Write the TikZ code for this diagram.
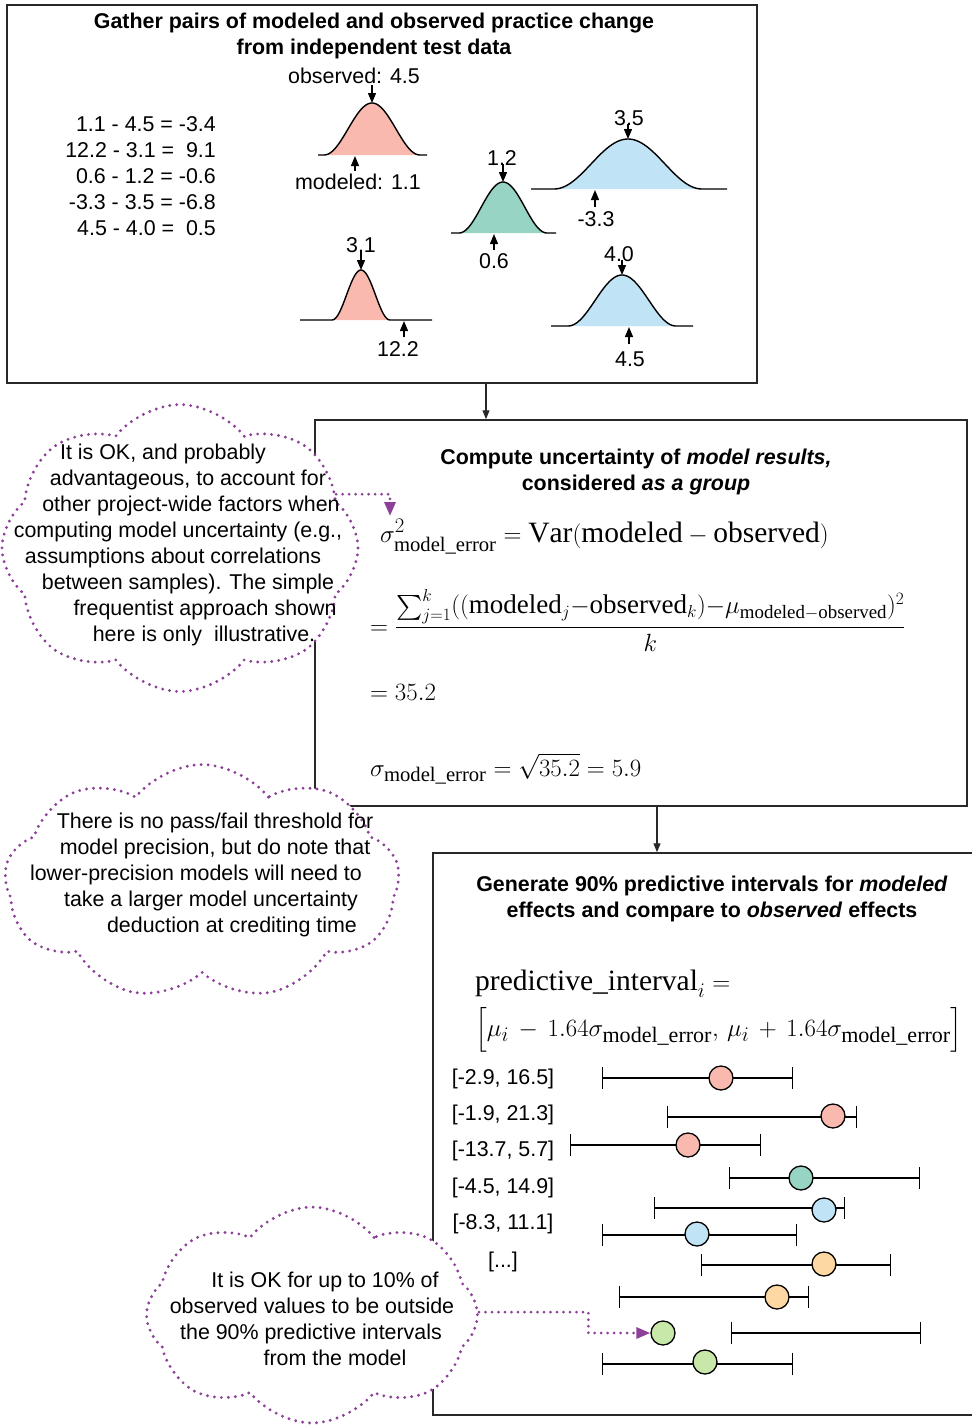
\documentclass[tikz,border=0pt]{standalone}
\usepackage{amsmath}
\usepackage{fontspec}
\setmainfont{Liberation Serif}
\newfontfamily\lsans{Liberation Sans}
\newcommand\EQ{\mathrel{\text{\usefont{OT1}{cmr}{m}{n}=}}}
\newcommand\PL{\mathbin{\text{\usefont{OT1}{cmr}{m}{n}+}}}
\usetikzlibrary{arrows.meta,shapes.symbols,calc}
\definecolor{pinkc}{RGB}{250,185,175}
\definecolor{tealc}{RGB}{152,212,196}
\definecolor{bluec}{RGB}{192,227,245}
\definecolor{orangec}{RGB}{253,216,162}
\definecolor{greenc}{RGB}{200,232,170}
\definecolor{notec}{RGB}{140,64,152}
\definecolor{framec}{RGB}{40,40,40}
\newcommand\bodyfont{\lsans\fontsize{21.4}{26}\selectfont}
\newcommand\mathsz{\fontsize{29.5}{35}\selectfont}
% color, center x, base y, height, half width, left x, right x
\newcommand\bellcurve[7]{%
  \pgfmathsetmacro\blo{#2-#5}\pgfmathsetmacro\bhi{#2+#5}%
  \draw[curve, fill=#1] (#6,#3) -- plot[domain=\blo:\bhi, samples=70] (\x,{#3-#4*(1+cos(180*(\x-#2)/#5))/2}) -- (#7,#3);}
\begin{document}
\begin{tikzpicture}[x=1pt,y=-1pt,
  frame/.style={draw=framec, line width=1.5pt, inner sep=0pt},
  txt/.style={font=\bodyfont, inner sep=0pt, align=center},
  ttl/.style={font={\bodyfont\bfseries}, inner sep=0pt, align=center},
  eqn/.style={font=\mathsz, inner sep=0pt, anchor=base west},
  curve/.style={draw=black, line width=1.4pt, line join=round},
  pk/.style={line width=1.3pt, -{Triangle[length=10pt,width=8pt]}},
  flow/.style={draw=framec, line width=1.3pt, -{Triangle[length=9pt,width=7pt]}},
  cloudnote/.style={cloud, cloud puffs=8, cloud puff arc=105, draw=notec, fill=white, line width=3.2pt, dash pattern=on 0pt off 7pt, line cap=round, inner sep=0pt},
  noteline/.style={draw=notec, line width=3pt, dash pattern=on 0pt off 6.5pt, line cap=round, -{Triangle[length=14pt,width=11pt,fill=notec]}},
  errbar/.style={line width=1.3pt, {Bar[width=22pt]}-{Bar[width=22pt]}},
  dot/.style={circle, draw=black, line width=1.3pt, minimum size=24pt, inner sep=0pt}]
\useasboundingbox (0,0) rectangle (972,1425);
\fill[white] (0,0) rectangle (972,1425);

% ---------- boxes ----------
\node[frame, minimum width=750pt, minimum height=378pt] (box1) at (382,194) {};
\node[frame, minimum width=560pt, minimum height=562pt] (box3) at (713,1134) {};
\node[frame, minimum width=652pt, minimum height=386pt] (box2) at (641,613) {};

\coordinate (a1) at (486,0);
\coordinate (a2) at (657,0);
\draw[flow] (box1.south -| a1) -- (box2.north -| a1);
\draw[flow] (box2.south -| a2) -- (box3.north -| a2);

% ---------- box 1 ----------
\node[ttl] (t1) at (374,36) {Gather pairs of modeled and observed practice change\\from independent test data};
\node[txt, align=right, anchor=east] (diffs) at (216,176.5) {1.1 - 4.5 = -3.4\\12.2 - 3.1 =\ \ 9.1\\0.6 - 1.2 = -0.6\\-3.3 - 3.5 = -6.8\\4.5 - 4.0 =\ \ 0.5};

\bellcurve{pinkc}{372}{155}{52}{48}{318}{427}
\bellcurve{tealc}{503}{233}{51}{44}{451}{556}
\bellcurve{bluec}{628}{189}{50}{74}{531}{727}
\bellcurve{pinkc}{361}{320}{50}{29}{300}{432}
\bellcurve{bluec}{622}{326}{51}{54}{551}{693}

\node[txt] (lobs) at (354,76) {observed: 4.5};
\node[txt] (lmod) at (358,182) {modeled: 1.1};
\node[txt] (l2a) at (502,158) {1.2};
\node[txt] (l2b) at (494,261) {0.6};
\node[txt] (l3a) at (629,118) {3.5};
\node[txt] (l3b) at (596,219) {-3.3};
\node[txt] (l4a) at (361,245) {3.1};
\node[txt] (l4b) at (398,349) {12.2};
\node[txt] (l5a) at (619,254) {4.0};
\node[txt] (l5b) at (630,359) {4.5};

\coordinate (p1) at (372,103);
\coordinate (q1) at (355,156);
\coordinate (p2) at (503,182);
\coordinate (q2) at (494,234);
\coordinate (p3) at (628,139);
\coordinate (q3) at (595,190);
\coordinate (p4) at (361,270);
\coordinate (q4) at (404,321);
\coordinate (p5) at (622,275);
\coordinate (q5) at (629,327);

\draw[pk] ($(lobs.south -| p1)+(0,1)$) -- (p1);
\draw[pk] ($(l2a.south -| p2)+(0,-2)$) -- (p2);
\draw[pk] ($(l3a.south -| p3)+(0,-2)$) -- (p3);
\draw[pk] ($(l4a.south -| p4)+(0,-2)$) -- (p4);
\draw[pk] ($(l5a.south -| p5)+(0,-2)$) -- (p5);
\draw[pk] ($(lmod.north -| q1)+(0,-3)$) -- (q1);
\draw[pk] ($(l2b.north -| q2)+(0,-3)$) -- (q2);
\draw[pk] ($(l3b.north -| q3)+(0,-4)$) -- (q3);
\draw[pk] ($(l4b.north -| q4)+(0,-4)$) -- (q4);
\draw[pk] ($(l5b.north -| q5)+(0,-7)$) -- (q5);

% ---------- box 2 ----------
\node[ttl] (t2) at (636,472) {Compute uncertainty of \textit{model results,}\\considered \textit{as a group}};
\node[eqn] (e1) at (380,542) {$\sigma^2_{\mathrm{model\_error}} \EQ \mathrm{Var}(\mathrm{modeled} - \mathrm{observed})$};
\node[eqn, font=\fontsize{27}{32}\selectfont] (e2) at (370,634) {$\EQ \displaystyle\frac{\sum_{j=1}^{k}((\mathrm{modeled}_j{-}\mathrm{observed}_k){-}\mu_{\mathrm{modeled-observed}})^2}{k}$};
\node[eqn] (e3) at (370,700) {$\EQ 35.2$};
\node[eqn] (e4) at (370,776) {$\sigma_{\mathrm{model\_error}} \EQ \sqrt{35.2} \EQ 5.9$};

% ---------- box 3 ----------
\node[ttl] (t3) at (712,899) {Generate 90\% predictive intervals for \textit{modeled}\\effects and compare to \textit{observed} effects};
\node[eqn] (f1) at (475,990) {$\mathrm{predictive\_interval}_i \EQ$};
\node[eqn, font=\fontsize{31.5}{36}\selectfont] (f2) at (475,1036) {\medmuskip=7mu $\Bigl[\mu_i - 1.64\sigma_{\mathrm{model\_error}},\, \mu_i \PL 1.64\sigma_{\mathrm{model\_error}}\Bigr]$};

\node[txt] (i1) at (503,1079) {[-2.9, 16.5]};
\node[txt] (i2) at (503,1115) {[-1.9, 21.3]};
\node[txt] (i3) at (503,1151) {[-13.7, 5.7]};
\node[txt] (i4) at (503,1188) {[-4.5, 14.9]};
\node[txt] (i5) at (503,1224) {[-8.3, 11.1]};
\node[txt] (i6) at (503,1262) {[...]};

\draw[errbar] (602,1078) -- (793,1078);
\draw[errbar] (667,1117) -- (857,1117);
\draw[errbar] (570,1145) -- (761,1145);
\draw[errbar] (729,1178) -- (920,1178);
\draw[errbar] (654,1208) -- (845,1208);
\draw[errbar] (602,1235) -- (797,1235);
\draw[errbar] (701,1265) -- (891,1265);
\draw[errbar] (619,1297) -- (809,1297);
\draw[errbar] (731,1333) -- (921,1333);
\draw[errbar] (602,1364) -- (793,1364);

\node[dot, fill=pinkc] (r1) at (721,1078) {};
\node[dot, fill=pinkc] (r2) at (833,1116) {};
\node[dot, fill=pinkc] (r3) at (688,1145) {};
\node[dot, fill=tealc] (r4) at (801,1178) {};
\node[dot, fill=bluec] (r5) at (824,1210) {};
\node[dot, fill=bluec] (r6) at (697,1234) {};
\node[dot, fill=orangec] (r7) at (824,1264) {};
\node[dot, fill=orangec] (r8) at (777,1297) {};
\node[dot, fill=greenc] (r9) at (663,1333) {};
\node[dot, fill=greenc] (r10) at (705,1362) {};

% ---------- clouds ----------
\node[cloudnote, minimum width=356pt, minimum height=287pt] (c1) at (180,548) {};
\node[txt] (n1) at (186,545) {\hspace*{-46pt}It is OK, and probably\\\hspace*{4pt}advantageous, to account for\\\hspace*{10pt}other project-wide factors when\\\hspace*{-16pt}computing model uncertainty (e.g.,\\\hspace*{-26pt}assumptions about correlations\\\hspace*{4pt}between samples). The simple\\\hspace*{38pt}frequentist approach shown\\\hspace*{36pt}here is only\ \ illustrative.};

\node[cloudnote, cloud puffs=9, minimum width=395pt, minimum height=235pt] (c2) at (202,882) {};
\node[txt] (n2) at (214,875) {\hspace*{2pt}There is no pass/fail threshold for\\\hspace*{2pt}model precision, but do note that\\\hspace*{-36pt}lower-precision models will need to\\\hspace*{-6pt}take a larger model uncertainty\\\hspace*{36pt}deduction at crediting time};

\node[cloudnote, minimum width=331pt, minimum height=216pt] (c3) at (312,1315) {};
\node[txt] (n3) at (321,1319) {\hspace*{8pt}It is OK for up to 10\% of\\\hspace*{-18pt}observed values to be outside\\\hspace*{-20pt}the 90\% predictive intervals\\\hspace*{28pt}from the model};

\coordinate (tip1) at (390,516);
\draw[noteline] (c1.19) -| (tip1);
\draw[noteline] (c3.1) -| ($(r9.west)+(-62,0)$) -- (r9.west);
\end{tikzpicture}
\end{document}
